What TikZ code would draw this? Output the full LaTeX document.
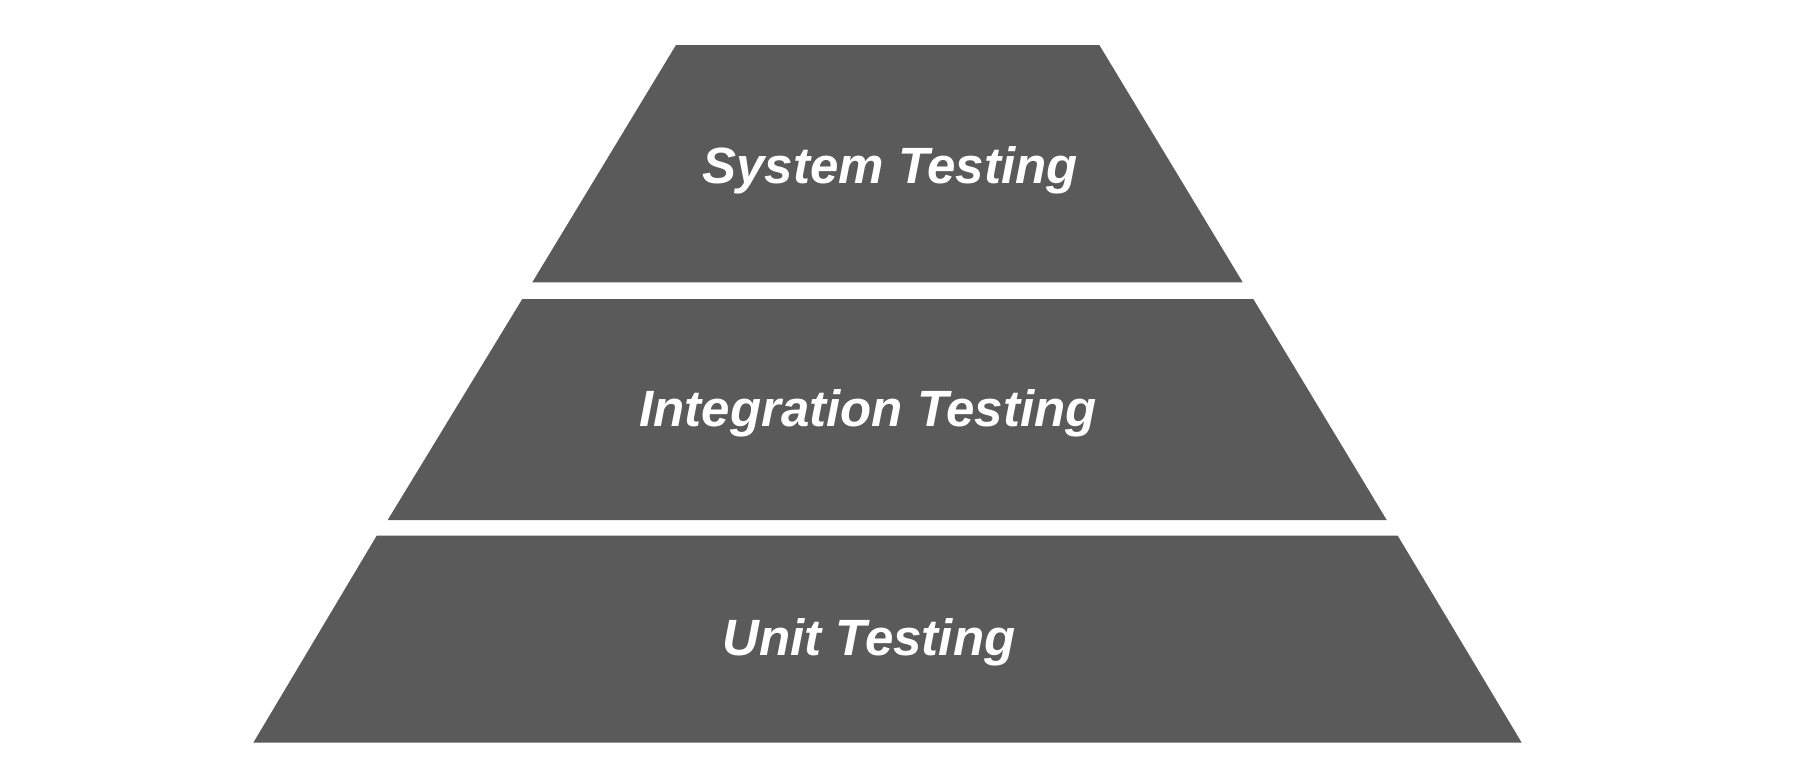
\documentclass[tikz,border=0pt]{standalone}
\usepackage{fontspec}
\setmainfont{Liberation Sans}
\definecolor{tierfill}{HTML}{5A5A5A}
\begin{document}
\begin{tikzpicture}[x=1pt,y=-1pt,
  tier/.style={fill=tierfill,draw=none},
  tierlabel/.style={text=white,font=\fontsize{51}{60}\selectfont\bfseries\itshape,anchor=base,inner sep=0pt}]
\useasboundingbox (0,0) rectangle (1812,772);
\fill[white] (0,0) rectangle (1812,772);
% top tier
\path[tier] (676,45) -- (1099.3,45) -- (1242.7,282.3) -- (532.3,282.3) -- cycle;
% middle tier
\path[tier] (522.3,299) -- (1253.3,299) -- (1386.7,520) -- (387.7,520) -- cycle;
% bottom tier
\path[tier] (376.7,535.7) -- (1397.7,535.7) -- (1521.7,742.7) -- (253.3,742.7) -- cycle;
\node[tierlabel] (sys) at (890,183) {System Testing};
\node[tierlabel] (int) at (868,426.7) {Integration Testing};
\node[tierlabel] (unit) at (869,655) {Unit Testing};
\end{tikzpicture}
\end{document}
